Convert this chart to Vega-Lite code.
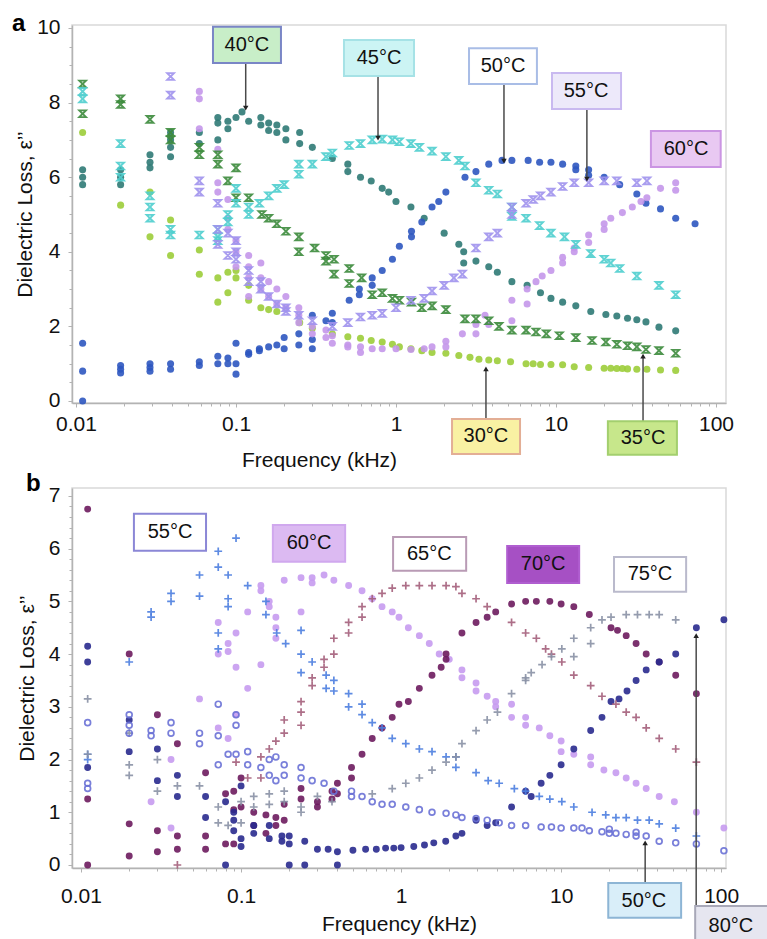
{
"$schema":"https://vega.github.io/schema/vega-lite/v6.json",
"background":"white",
"padding":{"left":11,"top":11,"right":0,"bottom":0},
"spacing":85,
"bounds":"flush",
"resolve":{"scale":{"color":"independent","fill":"independent","stroke":"independent"}},
"config":{"view":{"stroke":"#d9d9d9","strokeWidth":1.5},"axis":{"grid":false,"domainColor":"#b3b3b3","domainWidth":1.5,"tickColor":"#b3b3b3","tickSize":4,"labelFont":"Liberation Sans","labelFontSize":21,"labelColor":"#111","titleFont":"Liberation Sans","titleFontSize":21,"titleFontWeight":"normal","titleColor":"#111","labelFlush":false,"labelOverlap":false}},
"datasets":{
"PA":[{"p":"a","f":0.00398,"v":9.92}],
"PB":[{"p":"b","f":0.00453,"v":7.1}],
"A":[
{"s":"30°C","f":0.011,"v":7.2},{"s":"30°C","f":0.019,"v":5.25},{"s":"30°C","f":0.029,"v":5.6},{"s":"30°C","f":0.029,"v":4.4},{"s":"30°C","f":0.039,"v":4.85},{"s":"30°C","f":0.039,"v":3.9},{"s":"30°C","f":0.059,"v":4.05},{"s":"30°C","f":0.059,"v":3.4},{"s":"30°C","f":0.077,"v":3.3},{"s":"30°C","f":0.077,"v":2.65},{"s":"30°C","f":0.089,"v":3.45},{"s":"30°C","f":0.089,"v":2.9},{"s":"30°C","f":0.1,"v":3.5},{"s":"30°C","f":0.1,"v":3.3},{"s":"30°C","f":0.12,"v":3.1},{"s":"30°C","f":0.12,"v":2.7},{"s":"30°C","f":0.143,"v":2.5},{"s":"30°C","f":0.16,"v":2.45},{"s":"30°C","f":0.18,"v":2.4},{"s":"30°C","f":0.25,"v":2.1},{"s":"30°C","f":0.3,"v":1.95},{"s":"30°C","f":0.4,"v":1.8},{"s":"30°C","f":0.5,"v":1.72},{"s":"30°C","f":0.6,"v":1.68},{"s":"30°C","f":0.7,"v":1.62},{"s":"30°C","f":0.82,"v":1.58},{"s":"30°C","f":0.95,"v":1.52},{"s":"30°C","f":1.05,"v":1.45},{"s":"30°C","f":1.24,"v":1.4},{"s":"30°C","f":1.45,"v":1.35},{"s":"30°C","f":1.68,"v":1.3},{"s":"30°C","f":2.05,"v":1.28},{"s":"30°C","f":2.47,"v":1.22},{"s":"30°C","f":2.9,"v":1.17},{"s":"30°C","f":3.3,"v":1.12},{"s":"30°C","f":3.8,"v":1.1},{"s":"30°C","f":4.3,"v":1.08},{"s":"30°C","f":5.2,"v":1.05},{"s":"30°C","f":6.5,"v":1.0},{"s":"30°C","f":7.2,"v":1.0},{"s":"30°C","f":8.0,"v":0.98},{"s":"30°C","f":9.3,"v":0.98},{"s":"30°C","f":11,"v":0.97},{"s":"30°C","f":13,"v":0.92},{"s":"30°C","f":16,"v":0.9},{"s":"30°C","f":20,"v":0.88},{"s":"30°C","f":22,"v":0.88},{"s":"30°C","f":24,"v":0.87},{"s":"30°C","f":26,"v":0.87},{"s":"30°C","f":28,"v":0.86},{"s":"30°C","f":32,"v":0.85},{"s":"30°C","f":37,"v":0.85},{"s":"30°C","f":45,"v":0.83},{"s":"30°C","f":56,"v":0.82},
{"s":"35°C","f":0.011,"v":8.5},{"s":"35°C","f":0.011,"v":7.7},{"s":"35°C","f":0.019,"v":8.1},{"s":"35°C","f":0.019,"v":7.95},{"s":"35°C","f":0.029,"v":7.55},{"s":"35°C","f":0.039,"v":7.2},{"s":"35°C","f":0.039,"v":7.0},{"s":"35°C","f":0.059,"v":6.8},{"s":"35°C","f":0.059,"v":6.6},{"s":"35°C","f":0.077,"v":6.6},{"s":"35°C","f":0.077,"v":6.35},{"s":"35°C","f":0.089,"v":5.9},{"s":"35°C","f":0.1,"v":6.25},{"s":"35°C","f":0.1,"v":5.45},{"s":"35°C","f":0.12,"v":5.45},{"s":"35°C","f":0.145,"v":5.0},{"s":"35°C","f":0.16,"v":4.9},{"s":"35°C","f":0.18,"v":4.75},{"s":"35°C","f":0.205,"v":4.55},{"s":"35°C","f":0.247,"v":4.4},{"s":"35°C","f":0.247,"v":4.0},{"s":"35°C","f":0.31,"v":4.1},{"s":"35°C","f":0.365,"v":3.9},{"s":"35°C","f":0.365,"v":3.75},{"s":"35°C","f":0.41,"v":3.8},{"s":"35°C","f":0.41,"v":3.4},{"s":"35°C","f":0.51,"v":3.55},{"s":"35°C","f":0.51,"v":3.15},{"s":"35°C","f":0.61,"v":3.3},{"s":"35°C","f":0.71,"v":2.85},{"s":"35°C","f":0.82,"v":2.9},{"s":"35°C","f":0.95,"v":2.75},{"s":"35°C","f":1.05,"v":2.7},{"s":"35°C","f":1.25,"v":2.65},{"s":"35°C","f":1.45,"v":2.5},{"s":"35°C","f":1.68,"v":2.55},{"s":"35°C","f":2.05,"v":2.45},{"s":"35°C","f":2.7,"v":2.2},{"s":"35°C","f":3.16,"v":2.2},{"s":"35°C","f":3.8,"v":2.15},{"s":"35°C","f":4.4,"v":2.0},{"s":"35°C","f":5.3,"v":1.9},{"s":"35°C","f":6.5,"v":1.9},{"s":"35°C","f":7.5,"v":1.85},{"s":"35°C","f":8.7,"v":1.8},{"s":"35°C","f":10.5,"v":1.75},{"s":"35°C","f":13.3,"v":1.7},{"s":"35°C","f":16.8,"v":1.62},{"s":"35°C","f":20.5,"v":1.58},{"s":"35°C","f":24,"v":1.52},{"s":"35°C","f":28,"v":1.48},{"s":"35°C","f":32,"v":1.45},{"s":"35°C","f":36.5,"v":1.38},{"s":"35°C","f":44,"v":1.35},{"s":"35°C","f":56,"v":1.28},
{"s":"40°C","f":0.011,"v":6.2},{"s":"40°C","f":0.011,"v":6.0},{"s":"40°C","f":0.011,"v":5.8},{"s":"40°C","f":0.019,"v":6.2},{"s":"40°C","f":0.019,"v":6.0},{"s":"40°C","f":0.019,"v":5.8},{"s":"40°C","f":0.029,"v":6.6},{"s":"40°C","f":0.029,"v":6.4},{"s":"40°C","f":0.029,"v":6.25},{"s":"40°C","f":0.039,"v":7.2},{"s":"40°C","f":0.039,"v":7.0},{"s":"40°C","f":0.039,"v":6.8},{"s":"40°C","f":0.039,"v":6.55},{"s":"40°C","f":0.059,"v":7.2},{"s":"40°C","f":0.059,"v":6.9},{"s":"40°C","f":0.077,"v":7.6},{"s":"40°C","f":0.077,"v":7.45},{"s":"40°C","f":0.077,"v":7.0},{"s":"40°C","f":0.089,"v":7.5},{"s":"40°C","f":0.089,"v":7.3},{"s":"40°C","f":0.1,"v":7.6},{"s":"40°C","f":0.109,"v":7.75},{"s":"40°C","f":0.12,"v":7.5},{"s":"40°C","f":0.143,"v":7.6},{"s":"40°C","f":0.143,"v":7.4},{"s":"40°C","f":0.16,"v":7.45},{"s":"40°C","f":0.16,"v":7.25},{"s":"40°C","f":0.18,"v":7.4},{"s":"40°C","f":0.18,"v":7.2},{"s":"40°C","f":0.205,"v":7.3},{"s":"40°C","f":0.205,"v":7.0},{"s":"40°C","f":0.25,"v":7.2},{"s":"40°C","f":0.25,"v":6.9},{"s":"40°C","f":0.3,"v":6.8},{"s":"40°C","f":0.4,"v":6.5},{"s":"40°C","f":0.5,"v":6.35},{"s":"40°C","f":0.5,"v":6.15},{"s":"40°C","f":0.6,"v":6.0},{"s":"40°C","f":0.7,"v":5.9},{"s":"40°C","f":0.82,"v":5.7},{"s":"40°C","f":0.9,"v":5.6},{"s":"40°C","f":1.0,"v":5.35},{"s":"40°C","f":1.24,"v":5.2},{"s":"40°C","f":1.5,"v":4.9},{"s":"40°C","f":2.0,"v":4.5},{"s":"40°C","f":2.47,"v":4.2},{"s":"40°C","f":2.65,"v":4.0},{"s":"40°C","f":2.65,"v":3.7},{"s":"40°C","f":3.16,"v":3.75},{"s":"40°C","f":3.8,"v":3.6},{"s":"40°C","f":4.3,"v":3.45},{"s":"40°C","f":5.3,"v":3.2},{"s":"40°C","f":6.6,"v":3.1},{"s":"40°C","f":8.0,"v":2.9},{"s":"40°C","f":9.3,"v":2.75},{"s":"40°C","f":11,"v":2.65},{"s":"40°C","f":13.3,"v":2.55},{"s":"40°C","f":16.5,"v":2.4},{"s":"40°C","f":20.5,"v":2.32},{"s":"40°C","f":24,"v":2.28},{"s":"40°C","f":28,"v":2.22},{"s":"40°C","f":32,"v":2.18},{"s":"40°C","f":36.5,"v":2.12},{"s":"40°C","f":44,"v":1.98},{"s":"40°C","f":56,"v":1.88},
{"s":"45°C","f":0.011,"v":8.3},{"s":"45°C","f":0.011,"v":8.1},{"s":"45°C","f":0.019,"v":6.9},{"s":"45°C","f":0.019,"v":6.3},{"s":"45°C","f":0.019,"v":6.0},{"s":"45°C","f":0.029,"v":5.5},{"s":"45°C","f":0.029,"v":5.2},{"s":"45°C","f":0.029,"v":4.9},{"s":"45°C","f":0.039,"v":4.6},{"s":"45°C","f":0.039,"v":4.45},{"s":"45°C","f":0.059,"v":4.45},{"s":"45°C","f":0.077,"v":4.6},{"s":"45°C","f":0.077,"v":4.4},{"s":"45°C","f":0.077,"v":4.3},{"s":"45°C","f":0.089,"v":5.0},{"s":"45°C","f":0.089,"v":4.8},{"s":"45°C","f":0.1,"v":5.7},{"s":"45°C","f":0.1,"v":5.3},{"s":"45°C","f":0.12,"v":5.0},{"s":"45°C","f":0.12,"v":5.2},{"s":"45°C","f":0.14,"v":5.3},{"s":"45°C","f":0.16,"v":5.5},{"s":"45°C","f":0.18,"v":5.7},{"s":"45°C","f":0.2,"v":5.8},{"s":"45°C","f":0.247,"v":6.35},{"s":"45°C","f":0.247,"v":6.08},{"s":"45°C","f":0.3,"v":6.35},{"s":"45°C","f":0.365,"v":6.55},{"s":"45°C","f":0.4,"v":6.65},{"s":"45°C","f":0.51,"v":6.85},{"s":"45°C","f":0.6,"v":6.9},{"s":"45°C","f":0.71,"v":7.0},{"s":"45°C","f":0.82,"v":7.02},{"s":"45°C","f":0.95,"v":7.0},{"s":"45°C","f":1.05,"v":6.95},{"s":"45°C","f":1.24,"v":6.9},{"s":"45°C","f":1.4,"v":6.8},{"s":"45°C","f":1.68,"v":6.7},{"s":"45°C","f":2.05,"v":6.55},{"s":"45°C","f":2.47,"v":6.45},{"s":"45°C","f":2.7,"v":6.3},{"s":"45°C","f":3.16,"v":5.85},{"s":"45°C","f":3.8,"v":5.65},{"s":"45°C","f":4.3,"v":5.55},{"s":"45°C","f":5.3,"v":5.2},{"s":"45°C","f":5.3,"v":4.95},{"s":"45°C","f":6.5,"v":4.9},{"s":"45°C","f":7.9,"v":4.7},{"s":"45°C","f":9.3,"v":4.5},{"s":"45°C","f":11.3,"v":4.4},{"s":"45°C","f":13.3,"v":4.2},{"s":"45°C","f":16.5,"v":3.95},{"s":"45°C","f":20,"v":3.8},{"s":"45°C","f":22,"v":3.7},{"s":"45°C","f":25,"v":3.55},{"s":"45°C","f":32,"v":3.35},{"s":"45°C","f":44,"v":3.1},{"s":"45°C","f":56,"v":2.85},
{"s":"50°C","f":0.011,"v":1.55},{"s":"50°C","f":0.011,"v":0.8},{"s":"50°C","f":0.011,"v":0.0},{"s":"50°C","f":0.019,"v":0.95},{"s":"50°C","f":0.019,"v":0.85},{"s":"50°C","f":0.019,"v":0.75},{"s":"50°C","f":0.029,"v":1.0},{"s":"50°C","f":0.029,"v":0.9},{"s":"50°C","f":0.029,"v":0.8},{"s":"50°C","f":0.039,"v":1.0},{"s":"50°C","f":0.039,"v":0.85},{"s":"50°C","f":0.059,"v":1.05},{"s":"50°C","f":0.059,"v":0.95},{"s":"50°C","f":0.077,"v":1.2},{"s":"50°C","f":0.077,"v":1.0},{"s":"50°C","f":0.089,"v":1.15},{"s":"50°C","f":0.089,"v":1.0},{"s":"50°C","f":0.1,"v":1.55},{"s":"50°C","f":0.1,"v":1.0},{"s":"50°C","f":0.1,"v":0.72},{"s":"50°C","f":0.12,"v":1.3},{"s":"50°C","f":0.12,"v":1.25},{"s":"50°C","f":0.14,"v":1.35},{"s":"50°C","f":0.14,"v":1.4},{"s":"50°C","f":0.16,"v":1.45},{"s":"50°C","f":0.18,"v":1.5},{"s":"50°C","f":0.2,"v":1.7},{"s":"50°C","f":0.2,"v":1.4},{"s":"50°C","f":0.247,"v":1.8},{"s":"50°C","f":0.247,"v":1.5},{"s":"50°C","f":0.3,"v":2.3},{"s":"50°C","f":0.3,"v":1.65},{"s":"50°C","f":0.3,"v":1.4},{"s":"50°C","f":0.365,"v":2.15},{"s":"50°C","f":0.4,"v":2.35},{"s":"50°C","f":0.4,"v":2.1},{"s":"50°C","f":0.51,"v":2.7},{"s":"50°C","f":0.59,"v":3.0},{"s":"50°C","f":0.59,"v":2.85},{"s":"50°C","f":0.71,"v":3.3},{"s":"50°C","f":0.71,"v":3.1},{"s":"50°C","f":0.82,"v":3.5},{"s":"50°C","f":0.95,"v":3.8},{"s":"50°C","f":1.05,"v":4.15},{"s":"50°C","f":1.25,"v":4.55},{"s":"50°C","f":1.25,"v":4.4},{"s":"50°C","f":1.45,"v":4.8},{"s":"50°C","f":1.68,"v":5.2},{"s":"50°C","f":1.85,"v":5.35},{"s":"50°C","f":2.05,"v":5.6},{"s":"50°C","f":2.7,"v":6.0},{"s":"50°C","f":3.16,"v":6.15},{"s":"50°C","f":3.8,"v":6.35},{"s":"50°C","f":4.6,"v":6.45},{"s":"50°C","f":5.3,"v":6.45},{"s":"50°C","f":6.7,"v":6.45},{"s":"50°C","f":7.9,"v":6.4},{"s":"50°C","f":9.3,"v":6.4},{"s":"50°C","f":11,"v":6.35},{"s":"50°C","f":13.3,"v":6.3},{"s":"50°C","f":13.3,"v":6.2},{"s":"50°C","f":16,"v":6.2},{"s":"50°C","f":16,"v":6.05},{"s":"50°C","f":20,"v":6.0},{"s":"50°C","f":25,"v":5.8},{"s":"50°C","f":32,"v":5.55},{"s":"50°C","f":36.5,"v":5.3},{"s":"50°C","f":45,"v":5.15},{"s":"50°C","f":56,"v":4.9},{"s":"50°C","f":74,"v":4.75},
{"s":"55°C","f":0.039,"v":8.7},{"s":"55°C","f":0.039,"v":8.2},{"s":"55°C","f":0.059,"v":5.9},{"s":"55°C","f":0.059,"v":5.6},{"s":"55°C","f":0.077,"v":5.3},{"s":"55°C","f":0.077,"v":4.6},{"s":"55°C","f":0.077,"v":4.2},{"s":"55°C","f":0.089,"v":4.5},{"s":"55°C","f":0.089,"v":3.9},{"s":"55°C","f":0.1,"v":4.3},{"s":"55°C","f":0.1,"v":4.0},{"s":"55°C","f":0.1,"v":3.8},{"s":"55°C","f":0.12,"v":3.5},{"s":"55°C","f":0.12,"v":3.2},{"s":"55°C","f":0.143,"v":3.2},{"s":"55°C","f":0.143,"v":3.0},{"s":"55°C","f":0.16,"v":2.8},{"s":"55°C","f":0.18,"v":2.6},{"s":"55°C","f":0.205,"v":2.5},{"s":"55°C","f":0.205,"v":2.4},{"s":"55°C","f":0.247,"v":2.3},{"s":"55°C","f":0.3,"v":2.15},{"s":"55°C","f":0.4,"v":2.0},{"s":"55°C","f":0.5,"v":2.1},{"s":"55°C","f":0.6,"v":2.25},{"s":"55°C","f":0.71,"v":2.3},{"s":"55°C","f":0.82,"v":2.35},{"s":"55°C","f":1.0,"v":2.5},{"s":"55°C","f":1.24,"v":2.7},{"s":"55°C","f":1.5,"v":2.75},{"s":"55°C","f":1.68,"v":2.95},{"s":"55°C","f":2.0,"v":3.1},{"s":"55°C","f":2.3,"v":3.3},{"s":"55°C","f":2.6,"v":3.4},{"s":"55°C","f":3.16,"v":4.1},{"s":"55°C","f":3.8,"v":4.4},{"s":"55°C","f":4.3,"v":4.5},{"s":"55°C","f":5.3,"v":5.0},{"s":"55°C","f":5.3,"v":5.2},{"s":"55°C","f":6.5,"v":5.3},{"s":"55°C","f":7.2,"v":5.4},{"s":"55°C","f":8.0,"v":5.5},{"s":"55°C","f":9.3,"v":5.6},{"s":"55°C","f":11,"v":5.75},{"s":"55°C","f":13,"v":5.85},{"s":"55°C","f":16,"v":5.85},{"s":"55°C","f":20,"v":5.9},{"s":"55°C","f":24,"v":5.9},{"s":"55°C","f":32,"v":5.85},{"s":"55°C","f":37,"v":5.9},
{"s":"60°C","f":0.059,"v":8.3},{"s":"60°C","f":0.059,"v":8.1},{"s":"60°C","f":0.059,"v":7.3},{"s":"60°C","f":0.077,"v":6.75},{"s":"60°C","f":0.077,"v":5.85},{"s":"60°C","f":0.077,"v":5.6},{"s":"60°C","f":0.089,"v":5.4},{"s":"60°C","f":0.089,"v":4.9},{"s":"60°C","f":0.089,"v":4.6},{"s":"60°C","f":0.1,"v":4.3},{"s":"60°C","f":0.1,"v":4.0},{"s":"60°C","f":0.1,"v":3.6},{"s":"60°C","f":0.12,"v":3.9},{"s":"60°C","f":0.12,"v":3.6},{"s":"60°C","f":0.12,"v":3.3},{"s":"60°C","f":0.12,"v":2.8},{"s":"60°C","f":0.143,"v":3.7},{"s":"60°C","f":0.143,"v":3.3},{"s":"60°C","f":0.143,"v":3.0},{"s":"60°C","f":0.16,"v":3.2},{"s":"60°C","f":0.16,"v":2.8},{"s":"60°C","f":0.18,"v":3.0},{"s":"60°C","f":0.18,"v":2.6},{"s":"60°C","f":0.205,"v":2.8},{"s":"60°C","f":0.205,"v":2.5},{"s":"60°C","f":0.247,"v":2.5},{"s":"60°C","f":0.247,"v":2.3},{"s":"60°C","f":0.247,"v":2.1},{"s":"60°C","f":0.3,"v":2.0},{"s":"60°C","f":0.3,"v":1.8},{"s":"60°C","f":0.365,"v":1.9},{"s":"60°C","f":0.365,"v":1.7},{"s":"60°C","f":0.4,"v":1.75},{"s":"60°C","f":0.4,"v":1.55},{"s":"60°C","f":0.5,"v":1.5},{"s":"60°C","f":0.5,"v":1.45},{"s":"60°C","f":0.6,"v":1.45},{"s":"60°C","f":0.6,"v":1.3},{"s":"60°C","f":0.71,"v":1.4},{"s":"60°C","f":0.82,"v":1.4},{"s":"60°C","f":1.0,"v":1.4},{"s":"60°C","f":1.24,"v":1.38},{"s":"60°C","f":1.5,"v":1.4},{"s":"60°C","f":1.68,"v":1.45},{"s":"60°C","f":2.05,"v":1.6},{"s":"60°C","f":2.05,"v":1.45},{"s":"60°C","f":2.6,"v":1.8},{"s":"60°C","f":3.16,"v":2.05},{"s":"60°C","f":3.16,"v":1.8},{"s":"60°C","f":3.6,"v":2.3},{"s":"60°C","f":3.8,"v":2.05},{"s":"60°C","f":5.3,"v":2.7},{"s":"60°C","f":5.3,"v":2.15},{"s":"60°C","f":6.6,"v":3.0},{"s":"60°C","f":6.6,"v":2.6},{"s":"60°C","f":7.5,"v":3.2},{"s":"60°C","f":8.2,"v":3.35},{"s":"60°C","f":9.3,"v":3.5},{"s":"60°C","f":11,"v":3.85},{"s":"60°C","f":11,"v":3.7},{"s":"60°C","f":13,"v":4.1},{"s":"60°C","f":13,"v":4.0},{"s":"60°C","f":16,"v":4.45},{"s":"60°C","f":16,"v":4.25},{"s":"60°C","f":20,"v":4.75},{"s":"60°C","f":20,"v":4.6},{"s":"60°C","f":22,"v":4.9},{"s":"60°C","f":26,"v":5.05},{"s":"60°C","f":30,"v":5.2},{"s":"60°C","f":34,"v":5.35},{"s":"60°C","f":37,"v":5.45},{"s":"60°C","f":45,"v":5.7},{"s":"60°C","f":56,"v":5.85},{"s":"60°C","f":56,"v":5.65}
],
"B":[
{"s":"50°C","f":0.011,"v":2.7},{"s":"50°C","f":0.011,"v":1.55},{"s":"50°C","f":0.011,"v":1.45},{"s":"50°C","f":0.02,"v":2.85},{"s":"50°C","f":0.02,"v":2.65},{"s":"50°C","f":0.02,"v":2.5},{"s":"50°C","f":0.0274,"v":2.55},{"s":"50°C","f":0.0274,"v":2.45},{"s":"50°C","f":0.0365,"v":2.7},{"s":"50°C","f":0.0365,"v":2.5},{"s":"50°C","f":0.055,"v":2.5},{"s":"50°C","f":0.055,"v":2.3},{"s":"50°C","f":0.072,"v":3.05},{"s":"50°C","f":0.072,"v":2.45},{"s":"50°C","f":0.072,"v":1.9},{"s":"50°C","f":0.083,"v":2.1},{"s":"50°C","f":0.093,"v":2.85},{"s":"50°C","f":0.093,"v":2.65},{"s":"50°C","f":0.093,"v":2.1},{"s":"50°C","f":0.11,"v":2.15},{"s":"50°C","f":0.11,"v":1.9},{"s":"50°C","f":0.133,"v":1.85},{"s":"50°C","f":0.15,"v":2.0},{"s":"50°C","f":0.15,"v":1.7},{"s":"50°C","f":0.165,"v":2.05},{"s":"50°C","f":0.165,"v":1.6},{"s":"50°C","f":0.186,"v":1.9},{"s":"50°C","f":0.186,"v":1.7},{"s":"50°C","f":0.237,"v":1.85},{"s":"50°C","f":0.237,"v":1.65},{"s":"50°C","f":0.278,"v":1.6},{"s":"50°C","f":0.33,"v":1.55},{"s":"50°C","f":0.38,"v":1.4},{"s":"50°C","f":0.49,"v":1.4},{"s":"50°C","f":0.49,"v":1.3},{"s":"50°C","f":0.57,"v":1.3},{"s":"50°C","f":0.66,"v":1.2},{"s":"50°C","f":0.76,"v":1.15},{"s":"50°C","f":0.88,"v":1.15},{"s":"50°C","f":1.07,"v":1.1},{"s":"50°C","f":1.3,"v":1.05},{"s":"50°C","f":1.56,"v":1.0},{"s":"50°C","f":1.91,"v":0.98},{"s":"50°C","f":2.2,"v":0.95},{"s":"50°C","f":2.4,"v":0.9},{"s":"50°C","f":2.94,"v":0.88},{"s":"50°C","f":3.45,"v":0.85},{"s":"50°C","f":4.1,"v":0.8},{"s":"50°C","f":4.9,"v":0.75},{"s":"50°C","f":6.0,"v":0.75},{"s":"50°C","f":7.5,"v":0.72},{"s":"50°C","f":8.7,"v":0.72},{"s":"50°C","f":10,"v":0.7},{"s":"50°C","f":12,"v":0.7},{"s":"50°C","f":13.5,"v":0.7},{"s":"50°C","f":15,"v":0.65},{"s":"50°C","f":18,"v":0.63},{"s":"50°C","f":20,"v":0.68},{"s":"50°C","f":20,"v":0.6},{"s":"50°C","f":22,"v":0.6},{"s":"50°C","f":25.5,"v":0.58},{"s":"50°C","f":29.4,"v":0.62},{"s":"50°C","f":29.4,"v":0.55},{"s":"50°C","f":34,"v":0.55},{"s":"50°C","f":41,"v":0.45},{"s":"50°C","f":52,"v":0.42},{"s":"50°C","f":70,"v":0.4},{"s":"50°C","f":104,"v":0.27},
{"s":"55°C","f":0.011,"v":2.1},{"s":"55°C","f":0.011,"v":2.0},{"s":"55°C","f":0.02,"v":3.85},{"s":"55°C","f":0.0274,"v":4.8},{"s":"55°C","f":0.0274,"v":4.7},{"s":"55°C","f":0.0365,"v":5.15},{"s":"55°C","f":0.0365,"v":5.0},{"s":"55°C","f":0.055,"v":5.5},{"s":"55°C","f":0.055,"v":5.1},{"s":"55°C","f":0.072,"v":5.95},{"s":"55°C","f":0.072,"v":5.65},{"s":"55°C","f":0.072,"v":4.4},{"s":"55°C","f":0.072,"v":4.1},{"s":"55°C","f":0.083,"v":5.5},{"s":"55°C","f":0.083,"v":5.05},{"s":"55°C","f":0.083,"v":4.9},{"s":"55°C","f":0.093,"v":6.2},{"s":"55°C","f":0.11,"v":5.3},{"s":"55°C","f":0.143,"v":5.0},{"s":"55°C","f":0.143,"v":4.75},{"s":"55°C","f":0.167,"v":4.4},{"s":"55°C","f":0.19,"v":4.2},{"s":"55°C","f":0.237,"v":4.45},{"s":"55°C","f":0.237,"v":4.0},{"s":"55°C","f":0.237,"v":3.65},{"s":"55°C","f":0.278,"v":3.85},{"s":"55°C","f":0.34,"v":3.6},{"s":"55°C","f":0.34,"v":3.35},{"s":"55°C","f":0.38,"v":3.5},{"s":"55°C","f":0.38,"v":3.3},{"s":"55°C","f":0.47,"v":3.25},{"s":"55°C","f":0.47,"v":3.0},{"s":"55°C","f":0.57,"v":3.05},{"s":"55°C","f":0.57,"v":2.85},{"s":"55°C","f":0.66,"v":2.7},{"s":"55°C","f":0.76,"v":2.6},{"s":"55°C","f":0.88,"v":2.4},{"s":"55°C","f":1.07,"v":2.3},{"s":"55°C","f":1.3,"v":2.2},{"s":"55°C","f":1.56,"v":2.15},{"s":"55°C","f":1.91,"v":2.05},{"s":"55°C","f":2.2,"v":2.05},{"s":"55°C","f":2.2,"v":1.85},{"s":"55°C","f":2.94,"v":1.75},{"s":"55°C","f":3.5,"v":1.6},{"s":"55°C","f":4.1,"v":1.55},{"s":"55°C","f":5.1,"v":1.45},{"s":"55°C","f":6.0,"v":1.4},{"s":"55°C","f":7.3,"v":1.3},{"s":"55°C","f":8.5,"v":1.25},{"s":"55°C","f":10.1,"v":1.2},{"s":"55°C","f":12,"v":1.1},{"s":"55°C","f":15.6,"v":1.0},{"s":"55°C","f":19,"v":0.95},{"s":"55°C","f":22,"v":0.9},{"s":"55°C","f":25.5,"v":0.9},{"s":"55°C","f":30,"v":0.85},{"s":"55°C","f":35.5,"v":0.85},{"s":"55°C","f":41,"v":0.78},{"s":"55°C","f":52,"v":0.7},{"s":"55°C","f":70,"v":0.55},
{"s":"60°C","f":0.0274,"v":1.2},{"s":"60°C","f":0.0365,"v":2.0},{"s":"60°C","f":0.0365,"v":0.7},{"s":"60°C","f":0.055,"v":3.15},{"s":"60°C","f":0.072,"v":4.6},{"s":"60°C","f":0.072,"v":4.0},{"s":"60°C","f":0.072,"v":2.6},{"s":"60°C","f":0.083,"v":4.2},{"s":"60°C","f":0.083,"v":4.05},{"s":"60°C","f":0.083,"v":2.4},{"s":"60°C","f":0.093,"v":4.4},{"s":"60°C","f":0.093,"v":3.75},{"s":"60°C","f":0.093,"v":2.85},{"s":"60°C","f":0.11,"v":4.8},{"s":"60°C","f":0.11,"v":3.35},{"s":"60°C","f":0.133,"v":5.3},{"s":"60°C","f":0.133,"v":5.2},{"s":"60°C","f":0.133,"v":3.8},{"s":"60°C","f":0.15,"v":5.0},{"s":"60°C","f":0.15,"v":4.9},{"s":"60°C","f":0.165,"v":4.7},{"s":"60°C","f":0.165,"v":4.5},{"s":"60°C","f":0.165,"v":4.3},{"s":"60°C","f":0.186,"v":5.4},{"s":"60°C","f":0.237,"v":5.45},{"s":"60°C","f":0.237,"v":4.8},{"s":"60°C","f":0.278,"v":5.45},{"s":"60°C","f":0.278,"v":5.35},{"s":"60°C","f":0.33,"v":5.5},{"s":"60°C","f":0.38,"v":5.4},{"s":"60°C","f":0.47,"v":5.3},{"s":"60°C","f":0.57,"v":5.2},{"s":"60°C","f":0.66,"v":5.05},{"s":"60°C","f":0.76,"v":4.9},{"s":"60°C","f":0.88,"v":4.8},{"s":"60°C","f":0.97,"v":4.7},{"s":"60°C","f":1.11,"v":4.5},{"s":"60°C","f":1.3,"v":4.35},{"s":"60°C","f":1.5,"v":4.2},{"s":"60°C","f":1.73,"v":4.0},{"s":"60°C","f":2.0,"v":3.9},{"s":"60°C","f":2.4,"v":3.7},{"s":"60°C","f":2.4,"v":3.55},{"s":"60°C","f":2.94,"v":3.45},{"s":"60°C","f":2.94,"v":3.3},{"s":"60°C","f":3.45,"v":3.2},{"s":"60°C","f":3.9,"v":3.1},{"s":"60°C","f":3.9,"v":3.0},{"s":"60°C","f":4.9,"v":3.05},{"s":"60°C","f":4.9,"v":2.8},{"s":"60°C","f":6.0,"v":2.8},{"s":"60°C","f":6.0,"v":2.65},{"s":"60°C","f":7.3,"v":2.6},{"s":"60°C","f":8.5,"v":2.45},{"s":"60°C","f":10,"v":2.35},{"s":"60°C","f":10,"v":2.15},{"s":"60°C","f":12,"v":2.1},{"s":"60°C","f":15.3,"v":2.05},{"s":"60°C","f":15.3,"v":1.9},{"s":"60°C","f":18.5,"v":1.8},{"s":"60°C","f":22,"v":1.75},{"s":"60°C","f":25.5,"v":1.65},{"s":"60°C","f":29.4,"v":1.55},{"s":"60°C","f":34,"v":1.45},{"s":"60°C","f":41,"v":1.3},{"s":"60°C","f":51,"v":1.2},{"s":"60°C","f":70,"v":1.0},{"s":"60°C","f":104,"v":0.7},
{"s":"65°C","f":0.04,"v":0.0},{"s":"65°C","f":0.093,"v":1.95},{"s":"65°C","f":0.11,"v":1.65},{"s":"65°C","f":0.133,"v":2.05},{"s":"65°C","f":0.133,"v":1.65},{"s":"65°C","f":0.15,"v":2.2},{"s":"65°C","f":0.165,"v":2.35},{"s":"65°C","f":0.186,"v":2.75},{"s":"65°C","f":0.186,"v":2.5},{"s":"65°C","f":0.237,"v":3.1},{"s":"65°C","f":0.237,"v":2.9},{"s":"65°C","f":0.237,"v":2.65},{"s":"65°C","f":0.278,"v":3.55},{"s":"65°C","f":0.278,"v":3.4},{"s":"65°C","f":0.33,"v":3.9},{"s":"65°C","f":0.33,"v":3.75},{"s":"65°C","f":0.38,"v":4.0},{"s":"65°C","f":0.38,"v":4.3},{"s":"65°C","f":0.47,"v":4.6},{"s":"65°C","f":0.47,"v":4.4},{"s":"65°C","f":0.57,"v":4.9},{"s":"65°C","f":0.57,"v":4.7},{"s":"65°C","f":0.66,"v":5.05},{"s":"65°C","f":0.76,"v":5.15},{"s":"65°C","f":0.88,"v":5.25},{"s":"65°C","f":1.07,"v":5.3},{"s":"65°C","f":1.3,"v":5.3},{"s":"65°C","f":1.56,"v":5.3},{"s":"65°C","f":1.91,"v":5.3},{"s":"65°C","f":2.2,"v":5.28},{"s":"65°C","f":2.4,"v":5.15},{"s":"65°C","f":2.94,"v":5.05},{"s":"65°C","f":3.45,"v":4.9},{"s":"65°C","f":4.9,"v":4.6},{"s":"65°C","f":6.0,"v":4.4},{"s":"65°C","f":7.0,"v":4.3},{"s":"65°C","f":8.0,"v":4.1},{"s":"65°C","f":8.7,"v":4.0},{"s":"65°C","f":10.1,"v":3.85},{"s":"65°C","f":12,"v":3.6},{"s":"65°C","f":15.3,"v":3.4},{"s":"65°C","f":18,"v":3.2},{"s":"65°C","f":22,"v":3.05},{"s":"65°C","f":25.5,"v":2.9},{"s":"65°C","f":29.4,"v":2.8},{"s":"65°C","f":34,"v":2.6},{"s":"65°C","f":41,"v":2.4},{"s":"65°C","f":52,"v":2.2},{"s":"65°C","f":70,"v":1.95},
{"s":"70°C","f":0.011,"v":6.75},{"s":"70°C","f":0.011,"v":1.25},{"s":"70°C","f":0.011,"v":0.0},{"s":"70°C","f":0.02,"v":4.0},{"s":"70°C","f":0.02,"v":0.78},{"s":"70°C","f":0.02,"v":0.17},{"s":"70°C","f":0.03,"v":2.85},{"s":"70°C","f":0.03,"v":0.65},{"s":"70°C","f":0.03,"v":0.25},{"s":"70°C","f":0.04,"v":2.3},{"s":"70°C","f":0.04,"v":0.55},{"s":"70°C","f":0.04,"v":0.3},{"s":"70°C","f":0.06,"v":1.75},{"s":"70°C","f":0.06,"v":0.55},{"s":"70°C","f":0.06,"v":0.3},{"s":"70°C","f":0.08,"v":1.35},{"s":"70°C","f":0.08,"v":0.4},{"s":"70°C","f":0.09,"v":1.4},{"s":"70°C","f":0.09,"v":1.05},{"s":"70°C","f":0.09,"v":0.4},{"s":"70°C","f":0.1,"v":1.65},{"s":"70°C","f":0.1,"v":1.1},{"s":"70°C","f":0.12,"v":1.0},{"s":"70°C","f":0.12,"v":0.75},{"s":"70°C","f":0.143,"v":0.95},{"s":"70°C","f":0.143,"v":0.6},{"s":"70°C","f":0.165,"v":0.75},{"s":"70°C","f":0.165,"v":0.9},{"s":"70°C","f":0.186,"v":1.15},{"s":"70°C","f":0.186,"v":0.85},{"s":"70°C","f":0.237,"v":1.45},{"s":"70°C","f":0.237,"v":1.25},{"s":"70°C","f":0.3,"v":1.2},{"s":"70°C","f":0.3,"v":1.1},{"s":"70°C","f":0.37,"v":1.4},{"s":"70°C","f":0.37,"v":1.25},{"s":"70°C","f":0.4,"v":1.55},{"s":"70°C","f":0.4,"v":1.35},{"s":"70°C","f":0.49,"v":1.85},{"s":"70°C","f":0.49,"v":1.65},{"s":"70°C","f":0.57,"v":2.1},{"s":"70°C","f":0.66,"v":2.4},{"s":"70°C","f":0.76,"v":2.6},{"s":"70°C","f":0.88,"v":2.8},{"s":"70°C","f":0.97,"v":3.05},{"s":"70°C","f":1.11,"v":3.1},{"s":"70°C","f":1.3,"v":3.35},{"s":"70°C","f":1.56,"v":3.6},{"s":"70°C","f":1.78,"v":3.75},{"s":"70°C","f":1.91,"v":4.0},{"s":"70°C","f":1.91,"v":3.9},{"s":"70°C","f":2.4,"v":4.4},{"s":"70°C","f":2.94,"v":4.6},{"s":"70°C","f":3.45,"v":4.7},{"s":"70°C","f":3.9,"v":4.8},{"s":"70°C","f":4.9,"v":4.95},{"s":"70°C","f":6.0,"v":5.0},{"s":"70°C","f":7.0,"v":5.0},{"s":"70°C","f":8.5,"v":5.0},{"s":"70°C","f":10,"v":4.95},{"s":"70°C","f":12,"v":4.9},{"s":"70°C","f":15,"v":4.75},{"s":"70°C","f":20.5,"v":4.5},{"s":"70°C","f":22.5,"v":4.45},{"s":"70°C","f":25.5,"v":4.35},{"s":"70°C","f":29.4,"v":4.2},{"s":"70°C","f":34,"v":4.0},{"s":"70°C","f":41,"v":3.85},{"s":"70°C","f":52,"v":3.6},{"s":"70°C","f":70,"v":3.25},
{"s":"75°C","f":0.011,"v":3.15},{"s":"75°C","f":0.011,"v":2.1},{"s":"75°C","f":0.02,"v":2.5},{"s":"75°C","f":0.02,"v":1.9},{"s":"75°C","f":0.02,"v":1.7},{"s":"75°C","f":0.03,"v":2.0},{"s":"75°C","f":0.03,"v":1.4},{"s":"75°C","f":0.04,"v":1.5},{"s":"75°C","f":0.055,"v":1.5},{"s":"75°C","f":0.072,"v":0.8},{"s":"75°C","f":0.072,"v":1.1},{"s":"75°C","f":0.083,"v":0.75},{"s":"75°C","f":0.1,"v":1.2},{"s":"75°C","f":0.1,"v":0.8},{"s":"75°C","f":0.12,"v":1.3},{"s":"75°C","f":0.12,"v":1.1},{"s":"75°C","f":0.15,"v":1.35},{"s":"75°C","f":0.15,"v":1.15},{"s":"75°C","f":0.186,"v":1.4},{"s":"75°C","f":0.186,"v":1.2},{"s":"75°C","f":0.237,"v":1.1},{"s":"75°C","f":0.237,"v":1.0},{"s":"75°C","f":0.3,"v":1.3},{"s":"75°C","f":0.37,"v":1.2},{"s":"75°C","f":0.66,"v":1.35},{"s":"75°C","f":0.88,"v":1.45},{"s":"75°C","f":1.07,"v":1.55},{"s":"75°C","f":1.3,"v":1.65},{"s":"75°C","f":1.56,"v":1.8},{"s":"75°C","f":1.91,"v":1.95},{"s":"75°C","f":2.2,"v":2.05},{"s":"75°C","f":2.4,"v":2.3},{"s":"75°C","f":2.94,"v":2.55},{"s":"75°C","f":3.45,"v":2.75},{"s":"75°C","f":4.0,"v":2.9},{"s":"75°C","f":4.9,"v":3.25},{"s":"75°C","f":6.0,"v":3.55},{"s":"75°C","f":6.0,"v":3.5},{"s":"75°C","f":6.5,"v":3.65},{"s":"75°C","f":7.6,"v":3.8},{"s":"75°C","f":8.7,"v":3.95},{"s":"75°C","f":10.1,"v":4.1},{"s":"75°C","f":12,"v":4.3},{"s":"75°C","f":12,"v":3.95},{"s":"75°C","f":15.3,"v":4.5},{"s":"75°C","f":15.3,"v":4.2},{"s":"75°C","f":18,"v":4.65},{"s":"75°C","f":20.5,"v":4.7},{"s":"75°C","f":25.5,"v":4.75},{"s":"75°C","f":30,"v":4.75},{"s":"75°C","f":35.5,"v":4.75},{"s":"75°C","f":41,"v":4.75},{"s":"75°C","f":52,"v":4.65},
{"s":"80°C","f":0.011,"v":4.15},{"s":"80°C","f":0.011,"v":3.85},{"s":"80°C","f":0.011,"v":1.85},{"s":"80°C","f":0.02,"v":2.75},{"s":"80°C","f":0.02,"v":2.15},{"s":"80°C","f":0.03,"v":2.2},{"s":"80°C","f":0.03,"v":1.6},{"s":"80°C","f":0.04,"v":1.7},{"s":"80°C","f":0.04,"v":1.3},{"s":"80°C","f":0.06,"v":1.3},{"s":"80°C","f":0.06,"v":0.9},{"s":"80°C","f":0.08,"v":1.2},{"s":"80°C","f":0.08,"v":0.0},{"s":"80°C","f":0.09,"v":1.0},{"s":"80°C","f":0.09,"v":0.85},{"s":"80°C","f":0.09,"v":0.65},{"s":"80°C","f":0.1,"v":1.5},{"s":"80°C","f":0.1,"v":0.5},{"s":"80°C","f":0.1,"v":0.35},{"s":"80°C","f":0.12,"v":0.75},{"s":"80°C","f":0.12,"v":0.6},{"s":"80°C","f":0.15,"v":0.75},{"s":"80°C","f":0.15,"v":0.5},{"s":"80°C","f":0.18,"v":0.55},{"s":"80°C","f":0.18,"v":0.45},{"s":"80°C","f":0.2,"v":0.55},{"s":"80°C","f":0.2,"v":0.4},{"s":"80°C","f":0.2,"v":0.0},{"s":"80°C","f":0.25,"v":0.45},{"s":"80°C","f":0.25,"v":0.0},{"s":"80°C","f":0.3,"v":0.3},{"s":"80°C","f":0.35,"v":0.3},{"s":"80°C","f":0.4,"v":0.25},{"s":"80°C","f":0.4,"v":0.0},{"s":"80°C","f":0.5,"v":0.28},{"s":"80°C","f":0.6,"v":0.3},{"s":"80°C","f":0.7,"v":0.3},{"s":"80°C","f":0.8,"v":0.32},{"s":"80°C","f":0.9,"v":0.32},{"s":"80°C","f":1.0,"v":0.33},{"s":"80°C","f":1.2,"v":0.35},{"s":"80°C","f":1.4,"v":0.38},{"s":"80°C","f":1.6,"v":0.42},{"s":"80°C","f":1.9,"v":0.45},{"s":"80°C","f":2.2,"v":0.55},{"s":"80°C","f":2.4,"v":0.6},{"s":"80°C","f":2.94,"v":0.85},{"s":"80°C","f":3.45,"v":0.75},{"s":"80°C","f":3.9,"v":0.8},{"s":"80°C","f":4.9,"v":1.1},{"s":"80°C","f":6.0,"v":1.4},{"s":"80°C","f":6.5,"v":1.3},{"s":"80°C","f":7.5,"v":1.55},{"s":"80°C","f":8.5,"v":1.7},{"s":"80°C","f":10,"v":1.9},{"s":"80°C","f":12,"v":2.2},{"s":"80°C","f":15.3,"v":2.55},{"s":"80°C","f":18,"v":2.8},{"s":"80°C","f":20.5,"v":3.1},{"s":"80°C","f":23,"v":3.15},{"s":"80°C","f":25.8,"v":3.3},{"s":"80°C","f":29.4,"v":3.5},{"s":"80°C","f":34,"v":3.7},{"s":"80°C","f":41,"v":3.85},{"s":"80°C","f":52,"v":4.0},{"s":"80°C","f":70,"v":4.5},{"s":"80°C","f":104,"v":4.65}
],
"LA":[
{"t":"40°C","x1":0.0718,"x2":0.191,"y1":10.03,"y2":9.06,"xc":0.117,"yc":9.54,"fa":0.115,"vt":7.85,"vb":9.06},
{"t":"45°C","x1":0.473,"x2":1.296,"y1":9.68,"y2":8.71,"xc":0.783,"yc":9.2,"fa":0.772,"vt":7.05,"vb":8.71},
{"t":"50°C","x1":2.86,"x2":7.6,"y1":9.46,"y2":8.5,"xc":4.67,"yc":8.98,"fa":4.73,"vt":6.43,"vb":8.5},
{"t":"55°C","x1":9.44,"x2":25.5,"y1":8.79,"y2":7.83,"xc":15.4,"yc":8.31,"fa":15.6,"vt":5.95,"vb":7.83},
{"t":"60°C","x1":39.2,"x2":107,"y1":7.24,"y2":6.27,"xc":65,"yc":6.76},
{"t":"30°C","x1":2.24,"x2":5.96,"y1":-0.48,"y2":-1.42,"xc":3.65,"yc":-0.95,"fa":3.65,"vt":0.86,"vb":-0.48},
{"t":"35°C","x1":21.1,"x2":57,"y1":-0.54,"y2":-1.44,"xc":35,"yc":-0.99,"fa":35,"vt":1.2,"vb":-0.54}
],
"LB":[
{"t":"55°C","x1":0.0214,"x2":0.0604,"y1":6.66,"y2":5.96,"xc":0.036,"yc":6.32},
{"t":"60°C","x1":0.158,"x2":0.447,"y1":6.45,"y2":5.75,"xc":0.266,"yc":6.11},
{"t":"65°C","x1":0.891,"x2":2.55,"y1":6.22,"y2":5.58,"xc":1.5,"yc":5.9},
{"t":"70°C","x1":4.6,"x2":12.96,"y1":6.05,"y2":5.35,"xc":7.72,"yc":5.71},
{"t":"75°C","x1":21.4,"x2":60.4,"y1":5.84,"y2":5.18,"xc":35.9,"yc":5.52},
{"t":"50°C","x1":19.7,"x2":56.2,"y1":-0.34,"y2":-1.0,"xc":32.9,"yc":-0.68,"fa":33.5,"vt":0.42,"vb":-0.34},
{"t":"80°C","x1":68.8,"x2":200,"y1":-0.78,"y2":-1.6,"xc":115,"yc":-1.16,"fa":69.8,"vt":4.35,"vb":-0.78}
]
},
"vconcat":[
{
"width":654,"height":378,
"resolve":{"axis":{"x":"independent","y":"independent"}},
"layer":[
{"data":{"name":"A"},"transform":[{"filter":{"field":"s","oneOf":["30°C","40°C","50°C","60°C"]}}],
"mark":{"type":"point","filled":true,"shape":"circle","size":50,"opacity":0.9},
"encoding":{
"x":{"field":"f","type":"quantitative","title":"Frequency (kHz)","scale":{"type":"log","domain":[0.00944,115.5],"nice":false},"axis":{"orient":"bottom","values":[0.01,0.1,1,10,100],"format":"~g","labelPadding":6,"titlePadding":15,"titleX":247}},
"y":{"field":"v","type":"quantitative","title":"Dielectric Loss, ε’’","scale":{"domain":[-0.054,10.08],"nice":false,"zero":false},"axis":{"orient":"left","values":[0,2,4,6,8,10],"labelPadding":8,"titlePadding":1}},
"color":{"field":"s","type":"nominal","legend":null,"scale":{"domain":["30°C","35°C","40°C","45°C","50°C","55°C","60°C"],"range":["#9ccd3a","#3d8b3d","#2f7a75","#4fcfcf","#2e56c0","#a093ee","#c497ea"]}}}},
{"data":{"name":"A"},"transform":[{"filter":{"field":"s","oneOf":["35°C","45°C","55°C"]}}],
"mark":{"type":"point","filled":false,"shape":"M-1,-1L1,-1L-1,1L1,1Z","size":45,"strokeWidth":1.9,"opacity":0.9},
"encoding":{
"x":{"field":"f","type":"quantitative","axis":null},
"y":{"field":"v","type":"quantitative","axis":null},
"color":{"field":"s","type":"nominal","legend":null,"scale":{"domain":["30°C","35°C","40°C","45°C","50°C","55°C","60°C"],"range":["#9ccd3a","#3d8b3d","#2f7a75","#4fcfcf","#2e56c0","#a093ee","#c497ea"]}}}},
{"data":{"name":"LA"},"transform":[{"filter":"isValid(datum.fa)"}],
"mark":{"type":"rule","color":"#4a4a4a","strokeWidth":1.5},
"encoding":{"x":{"field":"fa","type":"quantitative","axis":null},"y":{"field":"vt","type":"quantitative","axis":null},"y2":{"field":"vb"}}},
{"data":{"name":"LA"},"transform":[{"filter":"isValid(datum.fa)"}],
"mark":{"type":"point","filled":true,"color":"#222","size":30,"opacity":1},
"encoding":{"x":{"field":"fa","type":"quantitative","axis":null},"y":{"field":"vt","type":"quantitative","axis":null},"shape":{"condition":{"test":"datum.vb > datum.vt","value":"triangle-down"},"value":"triangle-up"}}},
{"data":{"name":"LA"},
"mark":{"type":"rect","strokeWidth":2},
"encoding":{"x":{"field":"x1","type":"quantitative","axis":null},"x2":{"field":"x2"},"y":{"field":"y1","type":"quantitative","axis":null},"y2":{"field":"y2"},
"fill":{"field":"t","type":"nominal","legend":null,"scale":{"domain":["40°C","45°C","50°C","55°C","60°C","30°C","35°C"],"range":["#c8eec8","#ccf4f4","#ffffff","#ede9fa","#e9c9f2","#f9f1a3","#c7e78b"]}},
"stroke":{"field":"t","type":"nominal","legend":null,"scale":{"domain":["40°C","45°C","50°C","55°C","60°C","30°C","35°C"],"range":["#7a86c6","#a6e2e6","#a9bde6","#c9b9f0","#cb95e3","#e3ae95","#a3cf6e"]}}}},
{"data":{"name":"LA"},
"mark":{"type":"text","fontSize":20,"font":"Liberation Sans","color":"#111","baseline":"middle","align":"center"},
"encoding":{"x":{"field":"xc","type":"quantitative","axis":null},"y":{"field":"yc","type":"quantitative","axis":null},"text":{"field":"t"}}},
{"data":{"name":"PA"},
"mark":{"type":"text","fontSize":24,"fontWeight":"bold","font":"Liberation Sans","color":"#000","baseline":"alphabetic","align":"left"},
"encoding":{"x":{"field":"f","type":"quantitative","title":null,"axis":{"orient":"bottom","values":[0.02,0.03,0.04,0.05,0.06,0.07,0.08,0.09,0.2,0.3,0.4,0.5,0.6,0.7,0.8,0.9,2,3,4,5,6,7,8,9,20,30,40,50,60,70,80,90],"labels":false,"domain":false,"tickSize":3}},"y":{"field":"v","type":"quantitative","title":null,"axis":{"orient":"left","values":[0.5,1,1.5,2.5,3,3.5,4.5,5,5.5,6.5,7,7.5,8.5,9,9.5],"labels":false,"domain":false,"tickSize":3}},"text":{"field":"p"}}}
]
},
{
"width":654,"height":380,
"resolve":{"axis":{"x":"independent","y":"independent"}},
"layer":[
{"data":{"name":"B"},"transform":[{"filter":{"field":"s","oneOf":["60°C","70°C","80°C"]}}],
"mark":{"type":"point","filled":true,"shape":"circle","size":48,"opacity":0.9},
"encoding":{
"x":{"field":"f","type":"quantitative","title":"Frequency (kHz)","scale":{"type":"log","domain":[0.00878,107.2],"nice":false},"axis":{"orient":"bottom","values":[0.01,0.1,1,10,100],"format":"~g","labelPadding":13,"titlePadding":7}},
"y":{"field":"v","type":"quantitative","title":"Dielectric Loss, ε’’","scale":{"domain":[-0.057,7.15],"nice":false,"zero":false},"axis":{"orient":"left","values":[0,1,2,3,4,5,6,7],"labelPadding":8,"titlePadding":11}},
"color":{"field":"s","type":"nominal","legend":null,"scale":{"domain":["50°C","55°C","60°C","65°C","70°C","75°C","80°C"],"range":["#6b72d6","#4d7fe0","#c79bef","#a5607c","#6d1b5e","#8a92a6","#292a8e"]}}}},
{"data":{"name":"B"},"transform":[{"filter":{"field":"s","oneOf":["55°C","65°C","75°C"]}}],
"mark":{"type":"point","filled":false,"shape":"M-1,0L1,0M0,-1L0,1","size":60,"strokeWidth":1.7,"opacity":0.9},
"encoding":{
"x":{"field":"f","type":"quantitative","axis":null},
"y":{"field":"v","type":"quantitative","axis":null},
"color":{"field":"s","type":"nominal","legend":null,"scale":{"domain":["50°C","55°C","60°C","65°C","70°C","75°C","80°C"],"range":["#6b72d6","#4d7fe0","#c79bef","#a5607c","#6d1b5e","#8a92a6","#292a8e"]}}}},
{"data":{"name":"B"},"transform":[{"filter":{"field":"s","equal":"50°C"}}],
"mark":{"type":"point","filled":false,"shape":"circle","size":34,"strokeWidth":1.7,"opacity":0.9},
"encoding":{
"x":{"field":"f","type":"quantitative","axis":null},
"y":{"field":"v","type":"quantitative","axis":null},
"color":{"field":"s","type":"nominal","legend":null,"scale":{"domain":["50°C","55°C","60°C","65°C","70°C","75°C","80°C"],"range":["#6b72d6","#4d7fe0","#c79bef","#a5607c","#6d1b5e","#8a92a6","#292a8e"]}}}},
{"data":{"name":"LB"},"transform":[{"filter":"isValid(datum.fa)"}],
"mark":{"type":"rule","color":"#4a4a4a","strokeWidth":1.5},
"encoding":{"x":{"field":"fa","type":"quantitative","axis":null},"y":{"field":"vt","type":"quantitative","axis":null},"y2":{"field":"vb"}}},
{"data":{"name":"LB"},"transform":[{"filter":"isValid(datum.fa)"}],
"mark":{"type":"point","filled":true,"color":"#222","size":30,"opacity":1},
"encoding":{"x":{"field":"fa","type":"quantitative","axis":null},"y":{"field":"vt","type":"quantitative","axis":null},"shape":{"condition":{"test":"datum.vb > datum.vt","value":"triangle-down"},"value":"triangle-up"}}},
{"data":{"name":"LB"},
"mark":{"type":"rect","strokeWidth":2},
"encoding":{"x":{"field":"x1","type":"quantitative","axis":null},"x2":{"field":"x2"},"y":{"field":"y1","type":"quantitative","axis":null},"y2":{"field":"y2"},
"fill":{"field":"t","type":"nominal","legend":null,"scale":{"domain":["55°C","60°C","65°C","70°C","75°C","50°C","80°C"],"range":["#ffffff","#dcbaf2","#ffffff","#a650c4","#ffffff","#d9eef9","#e6e6f0"]}},
"stroke":{"field":"t","type":"nominal","legend":null,"scale":{"domain":["55°C","60°C","65°C","70°C","75°C","50°C","80°C"],"range":["#8b87d6","#d0a8ee","#b99bb5","#b05ed0","#babacc","#8db5d5","#a8a8b8"]}}}},
{"data":{"name":"LB"},
"mark":{"type":"text","fontSize":20,"font":"Liberation Sans","color":"#111","baseline":"middle","align":"center"},
"encoding":{"x":{"field":"xc","type":"quantitative","axis":null},"y":{"field":"yc","type":"quantitative","axis":null},"text":{"field":"t"}}},
{"data":{"name":"PB"},
"mark":{"type":"text","fontSize":24,"fontWeight":"bold","font":"Liberation Sans","color":"#000","baseline":"alphabetic","align":"left"},
"encoding":{"x":{"field":"f","type":"quantitative","title":null,"axis":{"orient":"bottom","values":[0.02,0.03,0.04,0.05,0.06,0.07,0.08,0.09,0.2,0.3,0.4,0.5,0.6,0.7,0.8,0.9,2,3,4,5,6,7,8,9,20,30,40,50,60,70,80,90],"labels":false,"domain":false,"tickSize":3}},"y":{"field":"v","type":"quantitative","title":null,"axis":{"orient":"left","values":[0.2,0.4,0.6,0.8,1.2,1.4,1.6,1.8,2.2,2.4,2.6,2.8,3.2,3.4,3.6,3.8,4.2,4.4,4.6,4.8,5.2,5.4,5.6,5.8,6.2,6.4,6.6,6.8],"labels":false,"domain":false,"tickSize":3}},"text":{"field":"p"}}}
]
}
]
}
